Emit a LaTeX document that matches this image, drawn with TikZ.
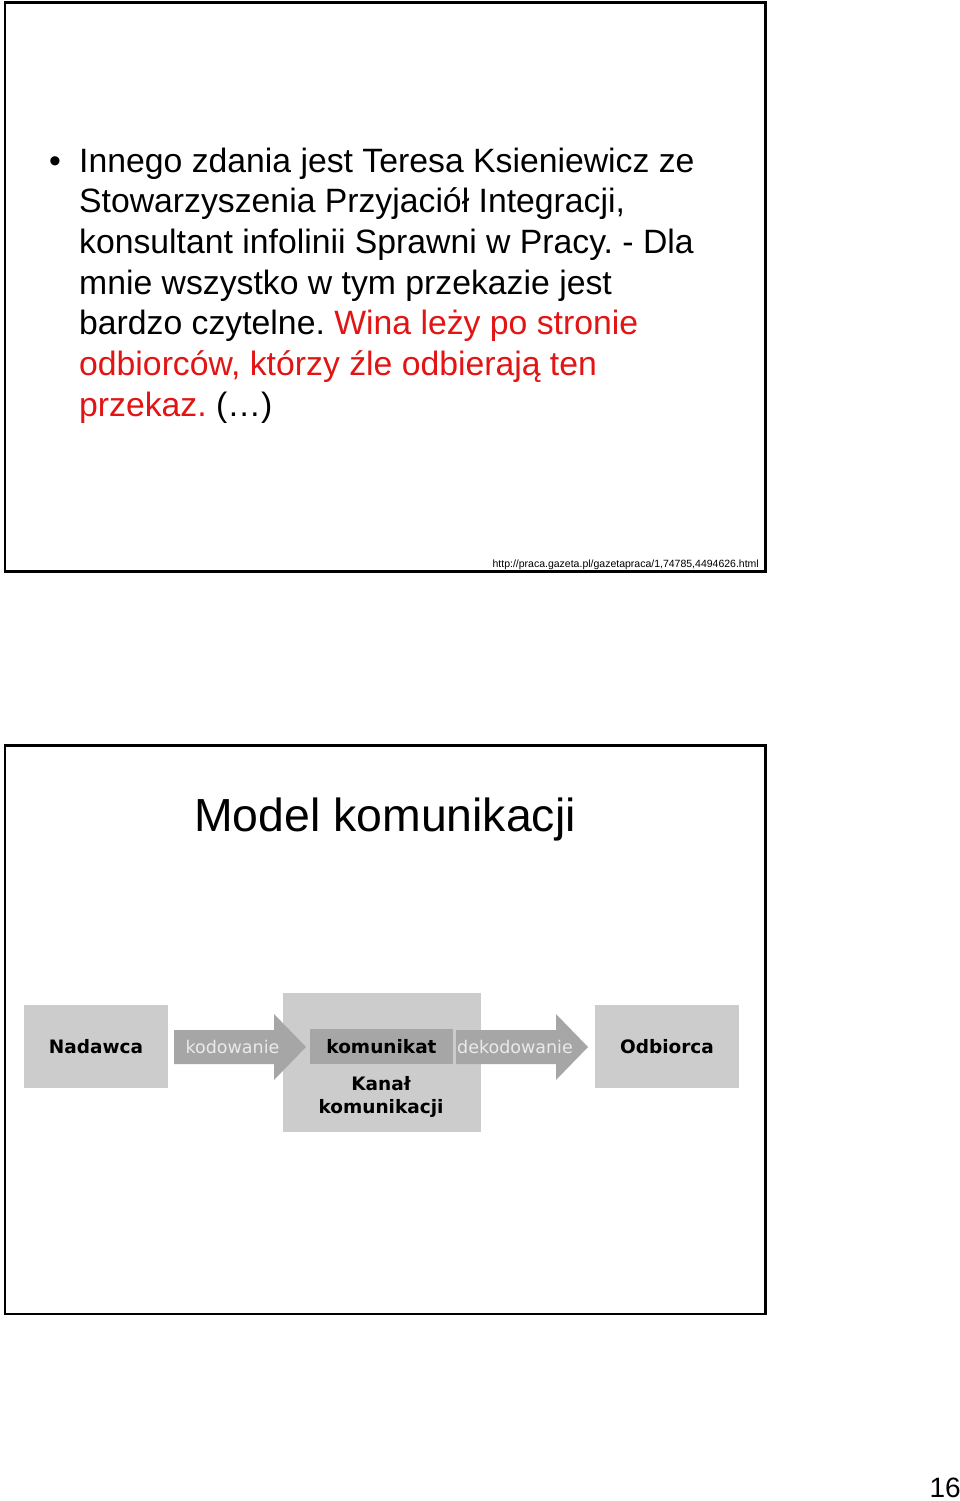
\documentclass[tikz,border=0pt]{standalone}
\usepackage{fontspec}
\setmainfont{Liberation Sans}
\newfontfamily\verd{DejaVu Sans}
\frenchspacing
\definecolor{txtred}{RGB}{226,20,20}
\definecolor{boxlight}{RGB}{204,204,204}
\definecolor{boxdark}{RGB}{166,166,166}
\definecolor{arrtxt}{RGB}{234,234,234}
\tikzset{
  frame/.style={draw=black,line width=2.5pt},
  bodytext/.style={anchor=base west,inner sep=0pt,font=\frenchspacing\fontsize{33.75}{40.7}\selectfont},
  lightbox/.style={fill=boxlight,inner sep=0pt},
  darkbox/.style={fill=boxdark,inner sep=0pt},
  boldlbl/.style={inner sep=0pt,font=\verd\bfseries\fontsize{18.5}{23}\selectfont,text=black,align=center},
  arrlbl/.style={inner sep=0pt,font=\verd\fontsize{17.5}{21}\selectfont,text=arrtxt},
  blockarrow/.style={fill=boxdark}
}
\begin{document}
\begin{tikzpicture}[x=1pt,y=-1pt]
\useasboundingbox[fill=white] (0,0) rectangle (960,1501);
% frames
\draw[frame] (5,2.5) rectangle (765.5,571.5);
\draw[frame] (5,745.5) rectangle (765.5,1314);
% bullet text
\node[bodytext] (bul) at (49,172) {•};
\node[bodytext] (l1) at (79,172) {Innego zdania jest Teresa Ksieniewicz ze};
\node[bodytext] (l2) at (79,212.7) {Stowarzyszenia Przyjaciół Integracji,};
\node[bodytext] (l3) at (79,253.4) {konsultant infolinii Sprawni w Pracy. - Dla};
\node[bodytext] (l4) at (79,294.1) {mnie wszystko w tym przekazie jest};
\node[bodytext] (l5) at (79,334.8) {bardzo czytelne. \textcolor{txtred}{Wina leży po stronie}};
\node[bodytext,text=txtred] (l6) at (79,375.5) {odbiorców, którzy źle odbierają ten};
\node[bodytext] (l7) at (79,416.2) {\textcolor{txtred}{przekaz.} (…)};
\node[anchor=base east,inner sep=0pt,font=\fontsize{10.5}{13}\selectfont] (url) at (759,567) {http://praca.gazeta.pl/gazetapraca/1,74785,4494626.html};
% title
\node[anchor=base,inner sep=0pt,font=\fontsize{46.4}{55}\selectfont] (title) at (385,831) {Model komunikacji};
% diagram
\node[lightbox,minimum width=144pt,minimum height=83pt] (nad) at (96,1046.5) {};
\node[boldlbl] at (nad.center) {Nadawca};
\node[lightbox,minimum width=198pt,minimum height=139pt] (kanal) at (382,1062.5) {};
\node[lightbox,minimum width=144pt,minimum height=83pt] (odb) at (667,1046.5) {};
\node[boldlbl] at (odb.center) {Odbiorca};
\coordinate (ka) at (174,1047);
\coordinate (da) at (456,1047);
\fill[blockarrow] (ka) ++(0,-17) -- ++(100,0) -- ++(0,-16) -- ++(32,33) -- ++(-32,33) -- ++(0,-16) -- ++(-100,0) -- cycle;
\fill[blockarrow] (da) ++(0,-17) -- ++(100,0) -- ++(0,-16) -- ++(32,33) -- ++(-32,33) -- ++(0,-16) -- ++(-100,0) -- cycle;
\node[arrlbl] (kod) at (232.5,1047) {kodowanie};
\node[arrlbl] (dek) at (515,1047) {dekodowanie};
\node[darkbox,minimum width=143pt,minimum height=35pt] (kom) at (381.5,1046.5) {};
\node[boldlbl] at (kom.center) {komunikat};
\node[boldlbl] (kanlbl) at (381,1097) {Kanał\\komunikacji};
% page number
\node[anchor=base east,inner sep=0pt,font=\fontsize{28}{33}\selectfont] (pg) at (961,1497) {16};
\end{tikzpicture}
\end{document}
